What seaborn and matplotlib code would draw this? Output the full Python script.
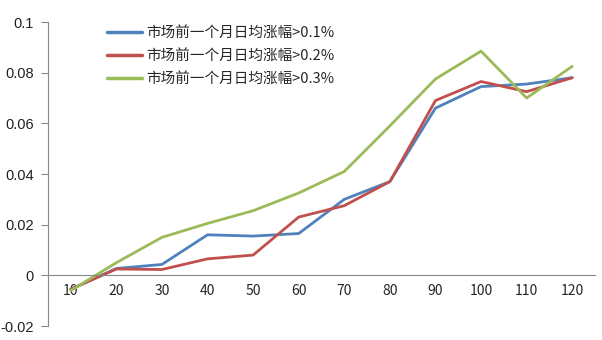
import matplotlib
matplotlib.use("Agg")
import matplotlib.pyplot as plt
import seaborn as sns
import pandas as pd
import numpy as np

categories = ["10", "20", "30", "40", "50", "60", "70", "80", "90", "100", "110", "120"]
s1 = [-0.0055, 0.0027, 0.0043, 0.016, 0.0155, 0.0165, 0.030, 0.037, 0.066, 0.0745, 0.0755, 0.078]
s2 = [-0.0055, 0.0025, 0.0023, 0.0065, 0.008, 0.023, 0.0275, 0.037, 0.069, 0.0765, 0.0725, 0.078]
s3 = [-0.006, 0.005, 0.015, 0.0205, 0.0255, 0.0325, 0.041, 0.059, 0.0775, 0.0885, 0.070, 0.0825]
names = ["市场前一个月日均涨幅>0.1%", "市场前一个月日均涨幅>0.2%", "市场前一个月日均涨幅>0.3%"]
colors = ["#4F81BD", "#C0504D", "#9BBB59"]

sns.set_style("white")
plt.rcParams['font.family'] = ['Noto Sans CJK SC', 'DejaVu Sans']

rows = []
for name, vals in zip(names, [s1, s2, s3]):
    for i, v in enumerate(vals):
        rows.append({"pos": i, "value": v, "series": name})
df = pd.DataFrame(rows)

fig = plt.figure(figsize=(6.02, 3.40), dpi=100)
ax = fig.add_axes([48/602, 14/340, (595-48)/602, (326-22)/340])
sns.lineplot(data=df, x="pos", y="value", hue="series", palette=colors,
             linewidth=2.0, ax=ax, legend=True)

ax.set_xlim(-0.5, 11.5)
ax.set_ylim(-0.02, 0.1)
ax.set_yticks([-0.02, 0, 0.02, 0.04, 0.06, 0.08, 0.1])
ax.set_yticklabels(["-0.02", "0", "0.02", "0.04", "0.06", "0.08", "0.1"],
                   fontsize=10.5, color="#222222", family="Liberation Sans")
ax.set_xticks(range(len(categories)))
ax.set_xticklabels(categories, fontsize=10.5, color="#222222", family="Liberation Sans")
ax.set_xticks(np.arange(-0.5, 12, 1), minor=True)
ax.tick_params(axis='x', which='major', length=0, pad=6)
ax.tick_params(axis='x', which='minor', length=5, color="#888888", direction='out')
ax.tick_params(axis='y', length=5, color="#888888", direction='out', left=True, pad=5)
ax.set_xlabel("")
ax.set_ylabel("")
for s in ["top", "right"]:
    ax.spines[s].set_visible(False)
ax.spines['bottom'].set_position(('data', 0))
ax.spines['bottom'].set_color("#888888")
ax.spines['left'].set_color("#888888")

leg = ax.legend(loc='upper left', bbox_to_anchor=(0.083, 1.03), frameon=False,
                prop={'family': ['Noto Sans CJK SC', 'DejaVu Sans'], 'size': 10.5},
                handlelength=2.4, labelspacing=0.62, handletextpad=0.35)
for line in leg.get_lines():
    line.set_linewidth(2.5)

fig.savefig("out.png", dpi=100)
